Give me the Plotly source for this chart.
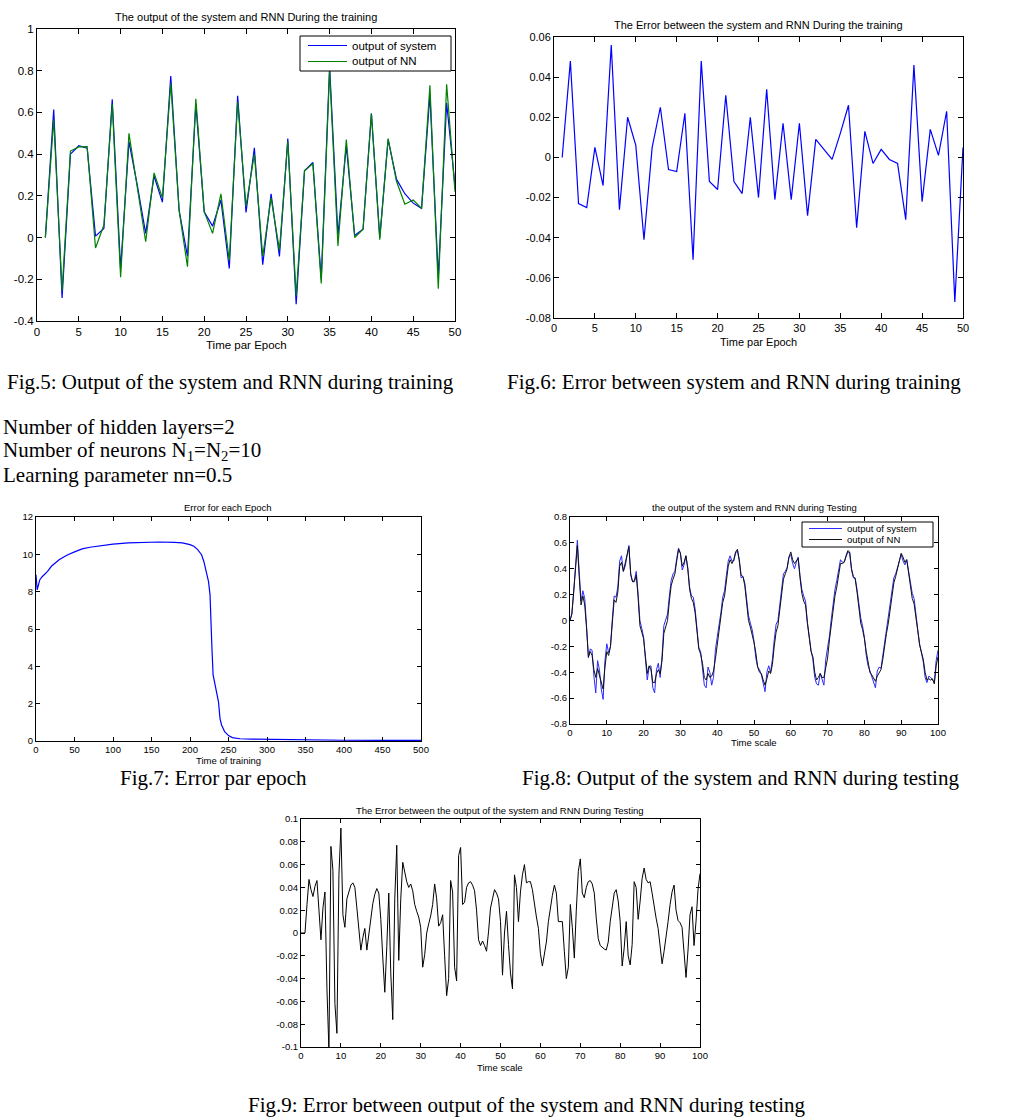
import plotly.graph_objects as go

W, H = 1036, 1120

# ---------------- Fig.5 : output of system / NN during training ----------------
epoch5 = list(range(1, 51))
sys5 = [0, 0.614, -0.29, 0.40, 0.44, 0.428, 0.007, 0.044, 0.663, -0.15,
        0.46, 0.25, 0.02, 0.295, 0.17, 0.775, 0.13, -0.09, 0.64, 0.124,
        0.055, 0.18, -0.148, 0.68, 0.12, 0.43, -0.13, 0.21, -0.09, 0.475,
        -0.32, 0.32, 0.36, -0.2, 0.82, 0.01, 0.44, 0.01, 0.04, 0.595,
        0.0, 0.47, 0.28, 0.21, 0.165, 0.14, 0.685, -0.19, 0.645, 0.25]
nn5 = [0, 0.566, -0.255, 0.415, 0.435, 0.436, -0.05, 0.06, 0.64, -0.19,
       0.5, 0.25, -0.02, 0.31, 0.19, 0.74, 0.13, -0.14, 0.665, 0.124,
       0.02, 0.21, -0.11, 0.65, 0.15, 0.40, -0.09, 0.19, -0.06, 0.46,
       -0.28, 0.32, 0.355, -0.22, 0.80, -0.04, 0.47, 0.0, 0.04, 0.595,
       -0.01, 0.475, 0.27, 0.16, 0.18, 0.14, 0.73, -0.245, 0.735, 0.22]

# ---------------- Fig.6 : error during training ----------------
err6 = [0, 0.048, -0.023, -0.025, 0.005, -0.014, 0.056, -0.026, 0.02, 0.006,
        -0.041, 0.005, 0.025, -0.006, -0.007, 0.022, -0.051, 0.048, -0.012, -0.016,
        0.031, -0.012, -0.018, 0.02, -0.02, 0.034, -0.021, 0.017, -0.021, 0.017,
        -0.029, 0.009, 0.004, -0.001, 0.012, 0.026, -0.035, 0.013, -0.003, 0.004,
        -0.001, -0.003, -0.031, 0.046, -0.022, 0.014, 0.001, 0.023, -0.072, 0.005]

# ---------------- Fig.7 : error for each epoch ----------------
epoch7 = [0, 1.5, 5, 8, 15, 20, 30, 40, 50, 60, 70, 80, 100, 120, 140, 160, 180,
          190, 200, 205, 210, 215, 218, 221, 224, 226, 227, 228.5, 230, 232, 235,
          237, 239, 241, 245, 250, 255, 265, 280, 300, 308, 350, 400, 450, 500]
err7 = [8.9, 8.1, 8.64, 8.8, 9.09, 9.36, 9.71, 9.95, 10.13, 10.29, 10.38, 10.45,
        10.55, 10.61, 10.64, 10.66, 10.64, 10.61, 10.52, 10.43, 10.25, 9.98, 9.62,
        9.09, 8.55, 7.84, 6.05, 4.97, 3.54, 3.1, 2.65, 2.1, 1.2, 0.86, 0.5, 0.29,
        0.18, 0.12, 0.1, 0.09, 0.05, 0.04, 0.04, 0.035, 0.035]

# ---------------- Fig.8 : output of system / NN during testing (step 0.5) ----------------
sys8 = [0, 0.05, 0.22, 0.47, 0.62, 0.38, 0.15, 0.23, 0.17, -0.04,
        -0.29, -0.22, -0.23, -0.43, -0.56, -0.31, -0.38, -0.53, -0.61, -0.31,
        -0.18, -0.25, -0.2, 0.01, 0.19, 0.18, 0.26, 0.46, 0.5, 0.38,
        0.42, 0.5, 0.58, 0.35, 0.3, 0.31, 0.38, 0.21, 0.0, -0.06,
        -0.13, -0.3, -0.46, -0.36, -0.35, -0.52, -0.56, -0.38, -0.33, -0.44,
        -0.28, -0.04, 0.0, 0.05, 0.19, 0.31, 0.36, 0.38, 0.48, 0.56,
        0.52, 0.39, 0.43, 0.5, 0.41, 0.26, 0.19, 0.18, 0.09, -0.09,
        -0.21, -0.24, -0.35, -0.5, -0.52, -0.36, -0.4, -0.5, -0.44, -0.23,
        -0.13, -0.05, 0.06, 0.18, 0.23, 0.35, 0.46, 0.5, 0.46, 0.46,
        0.52, 0.54, 0.46, 0.33, 0.34, 0.29, 0.16, 0.04, -0.02, -0.07,
        -0.16, -0.29, -0.36, -0.38, -0.42, -0.5, -0.55, -0.4, -0.35, -0.4,
        -0.3, -0.15, -0.03, 0.0, 0.12, 0.25, 0.36, 0.38, 0.41, 0.49,
        0.51, 0.44, 0.4, 0.45, 0.49, 0.35, 0.24, 0.19, 0.15, -0.01,
        -0.13, -0.23, -0.3, -0.44, -0.49, -0.5, -0.41, -0.46, -0.5, -0.3,
        -0.22, -0.12, 0.01, 0.15, 0.24, 0.31, 0.4, 0.47, 0.45, 0.45,
        0.49, 0.53, 0.52, 0.39, 0.33, 0.33, 0.24, 0.12, 0.02, -0.04,
        -0.13, -0.27, -0.35, -0.39, -0.44, -0.48, -0.52, -0.39, -0.36, -0.37,
        -0.27, -0.14, -0.04, 0.03, 0.13, 0.25, 0.33, 0.36, 0.41, 0.47,
        0.51, 0.46, 0.43, 0.47, 0.39, 0.3, 0.21, 0.17, 0.02, -0.07,
        -0.18, -0.25, -0.32, -0.44, -0.48, -0.43, -0.44, -0.46, -0.48, -0.31,
        -0.23]
nn8 = [0, 0.05, 0.22, 0.44, 0.58, 0.34, 0.12, 0.19, 0.12, -0.06,
       -0.28, -0.24, -0.27, -0.38, -0.44, -0.37, -0.43, -0.47, -0.53, -0.36,
       -0.24, -0.27, -0.2, -0.02, 0.16, 0.14, 0.22, 0.42, 0.45, 0.38,
       0.44, 0.51, 0.57, 0.36, 0.3, 0.3, 0.35, 0.18, -0.04, -0.09,
       -0.14, -0.28, -0.41, -0.35, -0.38, -0.48, -0.48, -0.41, -0.38, -0.41,
       -0.31, -0.1, -0.05, 0.0, 0.15, 0.27, 0.32, 0.36, 0.46, 0.55,
       0.52, 0.42, 0.45, 0.5, 0.4, 0.24, 0.17, 0.14, 0.06, -0.1,
       -0.22, -0.26, -0.33, -0.44, -0.46, -0.41, -0.44, -0.43, -0.39, -0.3,
       -0.2, -0.07, 0.03, 0.14, 0.19, 0.3, 0.42, 0.47, 0.44, 0.47,
       0.53, 0.55, 0.47, 0.35, 0.34, 0.27, 0.13, 0.0, -0.05, -0.1,
       -0.17, -0.25, -0.36, -0.4, -0.41, -0.46, -0.5, -0.45, -0.39, -0.41,
       -0.34, -0.2, -0.09, -0.04, 0.08, 0.21, 0.32, 0.36, 0.4, 0.49,
       0.53, 0.47, 0.44, 0.46, 0.48, 0.33, 0.21, 0.15, 0.12, -0.02,
       -0.14, -0.24, -0.28, -0.4, -0.46, -0.44, -0.41, -0.44, -0.44, -0.35,
       -0.29, -0.15, -0.02, 0.11, 0.19, 0.26, 0.36, 0.44, 0.44, 0.45,
       0.5, 0.54, 0.53, 0.4, 0.34, 0.32, 0.22, 0.08, -0.02, -0.07,
       -0.14, -0.24, -0.34, -0.4, -0.42, -0.45, -0.47, -0.43, -0.4, -0.38,
       -0.3, -0.19, -0.1, -0.02, 0.09, 0.2, 0.29, 0.34, 0.4, 0.47,
       0.52, 0.49, 0.45, 0.47, 0.38, 0.28, 0.17, 0.13, 0.0, -0.08,
       -0.19, -0.25, -0.3, -0.4, -0.46, -0.45, -0.46, -0.45, -0.49, -0.35,
       -0.28]

# ---------------- Fig.9 : error during testing (step 0.5) ----------------
err9 = [0, 0, 0, 0.025, 0.047, 0.038, 0.032, 0.041, 0.046, 0.02,
        -0.006, 0.022, 0.036, -0.049, -0.103, 0.076, 0.055, -0.062, -0.088, 0.051,
        0.092, 0.016, 0.005, 0.03, 0.037, 0.042, 0.044, 0.04, 0.022, 0.0,
        -0.015, -0.004, 0.004, -0.015, -0.002, 0.012, 0.026, 0.034, 0.039, 0.035,
        0.012, -0.022, -0.052, -0.012, 0.035, -0.035, -0.076, 0.03, 0.077, -0.024,
        0.03, 0.062, 0.052, 0.045, 0.04, 0.043, 0.037, 0.025, 0.019, 0.014,
        0.005, -0.03, -0.019, 0.0, 0.008, 0.015, 0.025, 0.043, 0.03, 0.006,
        0.009, 0.016, -0.02, -0.055, -0.04, 0.046, 0.036, -0.03, -0.042, 0.068,
        0.075, 0.025, 0.027, 0.04, 0.044, 0.045, 0.042, 0.037, 0.02, -0.006,
        -0.011, -0.007, -0.011, -0.016, 0.001, 0.022, 0.03, 0.038, 0.035, 0.03,
        0.01, -0.037, 0.0, 0.019, -0.01, -0.035, -0.049, 0.051, 0.04, 0.01,
        0.036, 0.051, 0.06, 0.044, 0.045, 0.045, 0.038, 0.025, 0.014, 0.004,
        -0.018, -0.029, -0.02, -0.008, 0.01, 0.024, 0.033, 0.042, 0.035, 0.01,
        0.01, 0.01, -0.016, -0.04, -0.03, 0.025, 0.005, -0.022, 0.02, 0.054,
        0.065, 0.035, 0.031, 0.04, 0.045, 0.046, 0.043, 0.035, 0.013, -0.005,
        -0.011, -0.013, -0.014, -0.015, -0.008, 0.01, 0.025, 0.035, 0.038, 0.028,
        0.01, -0.029, -0.013, 0.01, -0.02, -0.028, -0.01, 0.045, 0.04, 0.012,
        0.028, 0.048, 0.057, 0.047, 0.044, 0.045, 0.035, 0.023, 0.013, 0.004,
        -0.01, -0.027, -0.016, -0.004, 0.01, 0.025, 0.036, 0.042, 0.02, 0.011,
        0.009, 0.005, -0.015, -0.039, -0.015, 0.016, 0.023, -0.011, 0.01, 0.038,
        0.052]

t8 = [i * 0.5 for i in range(len(sys8))]
t9 = [i * 0.5 for i in range(len(err9))]

# ---------------- tick labels ----------------
x50_ticks = list(range(0, 51, 5))
y5_ticks = [-0.4, -0.2, 0, 0.2, 0.4, 0.6, 0.8, 1]
y5_labels = ["-0.4", "-0.2", "0", "0.2", "0.4", "0.6", "0.8", "1"]
y6_ticks = [-0.08, -0.06, -0.04, -0.02, 0, 0.02, 0.04, 0.06]
y6_labels = ["-0.08", "-0.06", "-0.04", "-0.02", "0", "0.02", "0.04", "0.06"]
x7_ticks = list(range(0, 501, 50))
y7_ticks = list(range(0, 13, 2))
x100_ticks = list(range(0, 101, 10))
y8_ticks = [-0.8, -0.6, -0.4, -0.2, 0, 0.2, 0.4, 0.6, 0.8]
y8_labels = ["-0.8", "-0.6", "-0.4", "-0.2", "0", "0.2", "0.4", "0.6", "0.8"]
y9_ticks = [-0.1, -0.08, -0.06, -0.04, -0.02, 0, 0.02, 0.04, 0.06, 0.08, 0.1]
y9_labels = ["-0.1", "-0.08", "-0.06", "-0.04", "-0.02", "0", "0.02", "0.04",
             "0.06", "0.08", "0.1"]
legend_names = ["output of system", "output of NN"]

SANS = "Liberation Sans, Arial, sans-serif"
SERIF = "Liberation Serif, Times New Roman, serif"

C_BLUE = "#0000ff"
C_GREEN = "#008000"
C_BLUE8 = "#2a2aff"
C_BLACK8 = "#111111"


def px_x(p):
    return p / W


def px_y(p):
    return 1 - p / H


fig = go.Figure()

fig.add_trace(go.Scatter(x=epoch5, y=sys5, mode="lines", name=legend_names[0],
                         line=dict(color=C_BLUE, width=1.2), xaxis="x", yaxis="y"))
fig.add_trace(go.Scatter(x=epoch5, y=nn5, mode="lines", name=legend_names[1],
                         line=dict(color=C_GREEN, width=1.2), xaxis="x", yaxis="y"))
fig.add_trace(go.Scatter(x=epoch5, y=err6, mode="lines", name="error",
                         line=dict(color=C_BLUE, width=1.2), xaxis="x2", yaxis="y2"))
fig.add_trace(go.Scatter(x=epoch7, y=err7, mode="lines", name="error per epoch",
                         line=dict(color=C_BLUE, width=1.2), xaxis="x3", yaxis="y3"))
fig.add_trace(go.Scatter(x=t8, y=sys8, mode="lines", name=legend_names[0],
                         line=dict(color=C_BLUE8, width=1), xaxis="x4", yaxis="y4"))
fig.add_trace(go.Scatter(x=t8, y=nn8, mode="lines", name=legend_names[1],
                         line=dict(color=C_BLACK8, width=1), xaxis="x4", yaxis="y4"))
fig.add_trace(go.Scatter(x=t9, y=err9, mode="lines", name="test error",
                         line=dict(color="#000000", width=1), xaxis="x5", yaxis="y5"))


def axis(domain, rng, tickvals, ticktext, anchor, size, ticklen):
    return dict(domain=domain, range=rng, tickvals=tickvals, ticktext=ticktext,
                anchor=anchor, showline=True, linecolor="black", linewidth=1,
                mirror="allticks", ticks="inside", ticklen=ticklen, tickcolor="black",
                showgrid=False, zeroline=False, fixedrange=True, automargin=False,
                tickfont=dict(family=SANS, size=size, color="black"))


lay = {}
lay["xaxis"] = axis([px_x(37), px_x(455)], [0, 50], x50_ticks, [str(v) for v in x50_ticks], "y", 11.5, 5)
lay["yaxis"] = axis([px_y(321), px_y(29)], [-0.4, 1], y5_ticks, y5_labels, "x", 11.5, 5)
lay["xaxis2"] = axis([px_x(554), px_x(963)], [0, 50], x50_ticks, [str(v) for v in x50_ticks], "y2", 11, 5)
lay["yaxis2"] = axis([px_y(318), px_y(37)], [-0.08, 0.06], y6_ticks, y6_labels, "x2", 11, 5)
lay["xaxis3"] = axis([px_x(36), px_x(421)], [0, 500], x7_ticks, [str(v) for v in x7_ticks], "y3", 9.5, 4)
lay["yaxis3"] = axis([px_y(741), px_y(517)], [0, 12], y7_ticks, [str(v) for v in y7_ticks], "x3", 9.5, 4)
lay["xaxis4"] = axis([px_x(570), px_x(938)], [0, 100], x100_ticks, [str(v) for v in x100_ticks], "y4", 9.5, 4)
lay["yaxis4"] = axis([px_y(724), px_y(517)], [-0.8, 0.8], y8_ticks, y8_labels, "x4", 9.5, 4)
lay["xaxis5"] = axis([px_x(301), px_x(700)], [0, 100], x100_ticks, [str(v) for v in x100_ticks], "y5", 9.5, 4)
lay["yaxis5"] = axis([px_y(1047), px_y(819)], [-0.1, 0.1], y9_ticks, y9_labels, "x5", 9.5, 4)

fig.update_layout(**lay)

ann = []
shapes = []


def txt(x, y, s, size, family=SANS, xanchor="center"):
    ann.append(dict(x=px_x(x), y=px_y(y), xref="paper", yref="paper", text=s,
                    showarrow=False, xanchor=xanchor, yanchor="middle",
                    font=dict(family=family, size=size, color="black")))


def legend_box(x0, y0, x1, y1, rows, lx0, lx1, tx, size):
    shapes.append(dict(type="rect", xref="paper", yref="paper", layer="above",
                       x0=px_x(x0), x1=px_x(x1), y0=px_y(y1), y1=px_y(y0),
                       fillcolor="white", line=dict(color="black", width=1)))
    for (ly, name, color) in rows:
        shapes.append(dict(type="line", xref="paper", yref="paper", layer="above",
                           x0=px_x(lx0), x1=px_x(lx1), y0=px_y(ly), y1=px_y(ly),
                           line=dict(color=color, width=1.2)))
        txt(tx, ly, name, size, SANS, "left")


# plot titles
txt(246, 17, "The output of the system and RNN During the training", 11)
txt(758, 25, "The Error between the system and RNN During the training", 11)
txt(228, 508, "Error for each Epoch", 9.5)
txt(754, 508, "the output of the system and RNN during Testing", 9.5)
txt(500, 810, "The Error between the output of the system and RNN During Testing", 9.5)
# axis titles
txt(246, 345, "Time par Epoch", 11.5)
txt(758, 342, "Time par Epoch", 11)
txt(228, 760, "Time of training", 9.5)
txt(754, 742, "Time scale", 9.5)
txt(500, 1067, "Time scale", 9.5)
# legends
legend_box(300, 36, 451, 71, [(45.5, legend_names[0], C_BLUE), (61.5, legend_names[1], C_GREEN)],
           308, 347, 350, 11.5)
legend_box(802, 522, 933, 547, [(528.5, legend_names[0], C_BLUE8), (539.5, legend_names[1], C_BLACK8)],
           809, 842, 845, 9.5)
# captions / text
txt(5, 382, "Fig.5: Output of the system and RNN during training", 21, SERIF, "left")
txt(505, 382, "Fig.6: Error between system and RNN during training", 21, SERIF, "left")
txt(1, 427, "Number of hidden layers=2", 21, SERIF, "left")
txt(1, 451, "Number of neurons N<sub>1</sub>=N<sub>2</sub>=10", 21, SERIF, "left")
txt(1, 475, "Learning parameter nn=0.5", 21, SERIF, "left")
txt(118, 778, "Fig.7: Error par epoch", 21, SERIF, "left")
txt(520, 778, "Fig.8: Output of the system and RNN during testing", 21, SERIF, "left")
txt(246, 1105, "Fig.9: Error between output of the system and RNN during testing", 21, SERIF, "left")

fig.update_layout(
    width=W, height=H, margin=dict(l=0, r=0, t=0, b=0, autoexpand=False),
    paper_bgcolor="white", plot_bgcolor="white",
    showlegend=False,
    annotations=ann, shapes=shapes,
)

fig.write_html("out.html",
               config={"displayModeBar": False, "staticPlot": True},
               post_script="document.body.style.margin='0px';document.body.style.overflow='hidden';")
